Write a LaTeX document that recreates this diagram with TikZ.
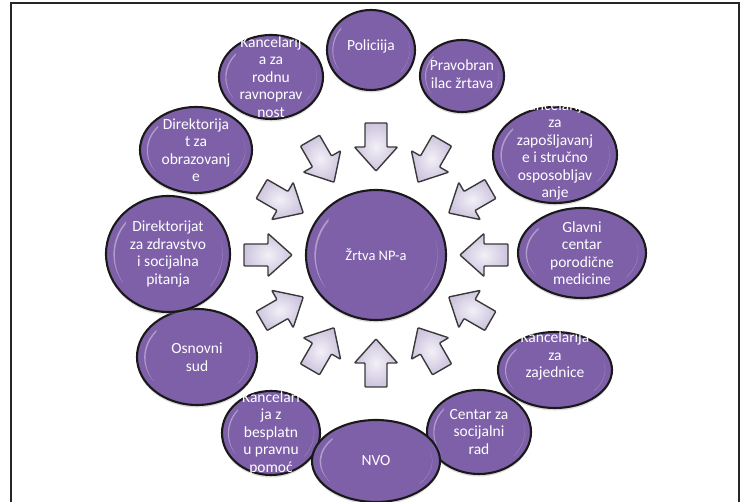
\documentclass[tikz,border=0pt]{standalone}
\usepackage{fontspec}
\setmainfont{Carlito}
\usetikzlibrary{shapes.geometric,shadows,calc}
\definecolor{bubblefill}{HTML}{7D60A8}
\definecolor{arrowfill}{HTML}{CDC4DE}
\definecolor{arrowedge}{HTML}{3A3A3A}
\tikzset{
 bubble/.style={ellipse, draw=black!90, line width=2.1pt, fill=bubblefill, inner sep=0pt,
   drop shadow={shadow xshift=0pt, shadow yshift=-2.5pt, opacity=0.3, fill=black!45}},
 gloss/.style={fill=white, opacity=0.38},
 btext/.style={text=white, align=center, font=\fontsize{15.5}{17.5}\selectfont, inner sep=0pt},
 ctext/.style={text=white, align=center, font=\fontsize{14.5}{17}\selectfont, inner sep=0pt},
 blockarrow/.style={draw=arrowedge, line width=1.4pt, line join=round, rounded corners=0.8pt,
   inner color=white!75!arrowfill, outer color=arrowfill},
 frameline/.style={draw=black!85, line width=1.6pt}
}
\begin{document}
\begin{tikzpicture}[x=1pt,y=1pt]
\useasboundingbox (0,0) rectangle (744,502);
\draw[frameline] (11,0) -- (11,499) -- (739,499) -- (739,0);
% bubbles
\foreach \n/\x/\y/\w/\h in {
 n1/271/425/104/84, n2/371/452/88/80, n3/462/426/84/72, n4/555/347/124/96,
 n5/582/249/128/90, n6/555/132/114/76, n7/479/70/104/84, n9/271/69/98/84,
 n8/376/41/128/82, n10/197/145/120/96, n11/168/248/124/116, n12/196/352/112/86,
 c/376/247/140/130}{
 \node[bubble, minimum width=\w pt, minimum height=\h pt] (\n) at (\x,\y) {};
 % left crescent highlight
 \fill[gloss] ({\x+0.44*\w*cos(140)},{\y+0.44*\h*sin(140)})
   arc[start angle=140, end angle=215, x radius={0.44*\w*1pt}, y radius={0.44*\h*1pt}]
   arc[start angle=215, end angle=140, x radius={0.38*\w*1pt}, y radius={0.42*\h*1pt}];
 % right crescent highlight
 \fill[gloss, opacity=0.3] ({\x+0.44*\w*cos(-40)},{\y+0.44*\h*sin(-40)})
   arc[start angle=-40, end angle=15, x radius={0.44*\w*1pt}, y radius={0.44*\h*1pt}]
   arc[start angle=15, end angle=-40, x radius={0.39*\w*1pt}, y radius={0.42*\h*1pt}];
}
% texts
\node[btext] (t1) at (n1) {Kancelarij\\a za\\rodnu\\ravnoprav\\nost};
\node[btext] (t2) at ([yshift=4pt]n2.center) {Policiija};
\node[btext] (t3) at ([yshift=2pt]n3.center) {Pravobran\\ilac žrtava};
\node[btext] (t4) at ([yshift=5pt]n4.center) {Kancelarija\\za\\zapošljavanj\\e i stručno\\osposobljav\\anje};
\node[btext] (t5) at (n5) {Glavni\\centar\\porodične\\medicine};
\node[btext] (t6) at ([yshift=14pt]n6.center) {Kancelarija\\za\\zajednice};
\node[btext] (t7) at (n7) {Centar za\\socijalni\\rad};
\node[btext] (t8) at (n8) {NVO};
\node[btext] (t9) at (n9) {Kancelari\\ja z\\besplatn\\u pravnu\\pomoć};
\node[btext] (t10) at (n10) {Osnovni\\sud};
\node[btext] (t11) at (n11) {Direktorijat\\za zdravstvo\\i socijalna\\pitanja};
\node[btext] (t12) at (n12) {Direktorija\\t za\\obrazovanj\\e};
\node[ctext] (tc) at (c) {Žrtva NP-a};
% block arrows pointing to the centre
\foreach \a in {0,30,...,330}{
 \coordinate (a\a) at ($(c)+(\a:108pt)$);
 \draw[blockarrow, shift={(a\a)}, rotate=\a+180]
   (-24,-11) -- (0,-11) -- (0,-21.5) -- (24,0) -- (0,21.5) -- (0,11) -- (-24,11) -- cycle;
}
\end{tikzpicture}
\end{document}
